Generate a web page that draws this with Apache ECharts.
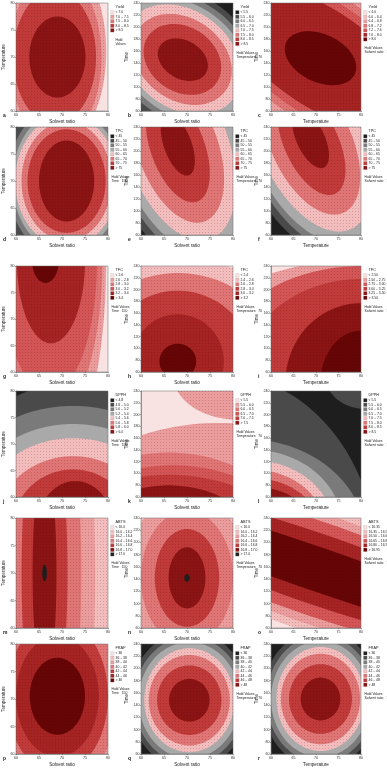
<!DOCTYPE html>
<html lang="en">
<head>
<meta charset="UTF-8">
<title>Response surface contour plots</title>
<script src="https://cdn.jsdelivr.net/npm/echarts@6/dist/echarts.min.js"></script>
<style>
  html, body { margin: 0; padding: 0; background: #fff; }
  #chart { width: 387px; height: 769px; }
</style>
</head>
<body>
<div id="chart"></div>
<script>
// axis ticks
var ratioTicks = [60, 65, 70, 75, 80];
var tempTicks = [60, 65, 70, 75, 80];
var timeTicks = [60, 80, 100, 120, 140, 160, 180, 200, 220, 240];

// responses (rows) and factor names
var responses = ['Yield', 'TPC', 'TFC', 'DPPH', 'ABTS', 'FRAP'];
var letters = ['a', 'b', 'c', 'd', 'e', 'f', 'g', 'h', 'i', 'j', 'k', 'l', 'm', 'n', 'o', 'p', 'q', 'r'];

// legend classes of every panel
var aLevels = ['< 7.0', '7.0 – 7.5', '7.5 – 8.0', '8.0 – 8.5', '> 8.5'];
var bLevels = ['< 5.5', '5.5 – 6.0', '6.0 – 6.5', '6.5 – 7.0', '7.0 – 7.5', '7.5 – 8.0', '8.0 – 8.5', '> 8.5'];
var cLevels = ['< 6.0', '6.0 – 6.4', '6.4 – 6.8', '6.8 – 7.2', '7.2 – 7.6', '7.6 – 8.0', '> 8.0'];
var dLevels = ['< 45', '45 – 50', '50 – 55', '55 – 60', '60 – 65', '65 – 70', '70 – 75', '> 75'];
var eLevels = ['< 45', '45 – 50', '50 – 55', '55 – 60', '60 – 65', '65 – 70', '70 – 75', '> 75'];
var fLevels = ['< 45', '45 – 50', '50 – 55', '55 – 60', '60 – 65', '65 – 70', '70 – 75', '> 75'];
var gLevels = ['< 2.6', '2.6 – 2.8', '2.8 – 3.0', '3.0 – 3.2', '3.2 – 3.4', '> 3.4'];
var hLevels = ['< 2.4', '2.4 – 2.6', '2.6 – 2.8', '2.8 – 3.0', '3.0 – 3.2', '> 3.2'];
var iLevels = ['< 2.50', '2.50 – 2.75', '2.75 – 3.00', '3.00 – 3.25', '3.25 – 3.50', '> 3.50'];
var jLevels = ['< 4.8', '4.8 – 5.0', '5.0 – 5.2', '5.2 – 5.4', '5.4 – 5.6', '5.6 – 5.8', '5.8 – 6.0', '> 6.0'];
var kLevels = ['< 5.5', '5.5 – 6.0', '6.0 – 6.5', '6.5 – 7.0', '7.0 – 7.5', '> 7.5'];
var lLevels = ['< 5.5', '5.5 – 6.0', '6.0 – 6.5', '6.5 – 7.0', '7.0 – 7.5', '7.5 – 8.0', '8.0 – 8.5', '> 8.5'];
var mLevels = ['< 16.0', '16.0 – 16.2', '16.2 – 16.4', '16.4 – 16.6', '16.6 – 16.8', '16.8 – 17.0', '> 17.0'];
var nLevels = ['< 16.0', '16.0 – 16.2', '16.2 – 16.4', '16.4 – 16.6', '16.6 – 16.8', '16.8 – 17.0', '> 17.0'];
var oLevels = ['< 16.35', '16.35 – 16.50', '16.50 – 16.65', '16.65 – 16.80', '16.80 – 16.95', '> 16.95'];
var pLevels = ['< 36', '36 – 38', '38 – 40', '40 – 42', '42 – 44', '44 – 46', '> 46'];
var qLevels = ['< 36', '36 – 38', '38 – 40', '40 – 42', '42 – 44', '44 – 46', '46 – 48', '> 48'];
var rLevels = ['< 36', '36 – 38', '38 – 40', '40 – 42', '42 – 44', '44 – 46', '46 – 48', '> 48'];

// contour regions: [class, centre x, centre y, half width (x units), half height (y units), tilt deg]
// drawn outermost first; the area outside all of them is class 0
var aContours = [[1, 68.6, 71, 11, 18, 0], [2, 68.6, 70, 10, 15.6, 0], [3, 68.4, 70, 9.0, 12.4, 0], [4, 69.0, 70, 6.1, 7.5, 0]];
var bContours = [[1, 69, 146, 19, 108, -38], [2, 69, 146, 17.6, 99, -38], [3, 69, 146, 16, 90, -38], [4, 69, 146, 14, 81, -38],
  [5, 69, 146, 11.6, 68, -36], [6, 69, 146, 9, 54, -34], [7, 69.1, 145.5, 5.8, 32, -30]];
var cContours = [[1, 71, 148, 32, 131, -34], [2, 71, 148, 30, 119, -34], [3, 71, 148, 28, 106, -34], [4, 71, 148, 26, 94, -34],
  [5, 71, 148, 24, 81, -34], [6, 71, 148, 8.4, 40, -25]];
var dContours = [[1, 71, 70, 14, 15.8, 0], [2, 71, 70, 12.8, 14.4, 0], [3, 71, 70, 11.8, 13.3, 0], [4, 71, 70, 11.2, 12.2, 0],
  [5, 71, 70, 9.8, 11.0, 0], [6, 71, 70, 8.5, 9.6, 0], [7, 71, 70, 6.0, 7.5, 0]];
var eContours = [[1, 68, 205, 28, 119, -70], [2, 68, 205, 26, 108, -70], [3, 68, 205, 24, 99, -70], [4, 68, 205, 21, 85, -70],
  [5, 68, 205, 17, 67, -70], [6, 68, 205, 12.4, 45, -70], [7, 68, 210, 7, 23, -70]];
var fContours = [[1, 69, 213, 28, 119, -65], [2, 69, 213, 26, 108, -65], [3, 69, 213, 24, 99, -65], [4, 69, 213, 21, 85, -65],
  [5, 69, 213, 17, 67, -65], [6, 69, 213, 12.4, 45, -65], [7, 68.8, 220, 7, 23.4, -65]];
var gContours = [[1, 67.2, 81, 12.4, 38.6, 0], [2, 67.2, 81, 11.6, 30, 0], [3, 67.2, 81, 10.4, 25, 0], [4, 67.6, 81, 7.4, 15.6, 0],
  [5, 66.4, 81, 2.9, 4.2, 0]];
var hContours = [[1, 68, 78, 28, 175, 0], [2, 68, 78, 22, 150, 0], [3, 68, 78, 16, 120, 0], [4, 68, 78, 10, 80, 0], [5, 68, 78, 4, 30, 0]];
var iContours = [[1, 80, 42, 44, 208, 0], [2, 80, 42, 34, 198, 0], [3, 80, 42, 27, 176, 0], [4, 80, 42, 16.8, 135, 0], [5, 80, 42, 9, 88, 0]];
var jContours = [[1, 72.4, 54, 30, 27.5, 0], [2, 72.4, 54, 29.4, 23.2, 0], [3, 72.4, 54, 25, 19.8, 0], [4, 72.4, 54, 21.6, 17.1, 0],
  [5, 72.4, 54, 17, 13.7, 0], [6, 72.4, 54, 13.2, 11.2, 0], [7, 72.9, 54, 8.4, 9, 0]];
var kContours = [[1, 77, -48, 40.6, 234, 0], [1, 81, 267, 14, 75.6, 0], [2, 66, -84, 32, 219.6, 0], [3, 67, -48, 28.4, 162, 0],
  [4, 66, -30, 26.8, 127.8, 0], [5, 66, -12, 18.4, 91.8, 0]];
var lContours = [[1, 81, 267, 9, 57.6, 0], [1, 48, -48, 35.4, 318.6, 0], [2, 54, -12, 27, 171, 0], [3, 56, 6, 20, 134, 0],
  [4, 56, 6, 18, 116, 0], [5, 56, 6, 16, 100.4, 0], [6, 56, 6, 14.8, 86, 0], [7, 56, 6, 13.4, 71.6, 0]];
var mContours = [[1, 66.2, 70, 14, 60, 0], [2, 66.2, 70, 11, 50, 0], [3, 66.2, 70, 8, 40, 0], [4, 66.2, 70, 5, 30, 0], [5, 66.2, 70, 2.6, 20, 0],
  [6, 66.2, 70, 0.5, 1.5, 0]];
var nContours = [[1, 70, 142, 16, 170, 0], [2, 70, 142, 13, 140, 0], [3, 70, 142, 10, 110, 0], [4, 70, 142, 7, 80, 0], [5, 70, 142, 4, 50, 0],
  [6, 70, 142, 0.6, 6, 0]];
var oContours = [[1, 70, 157, 50, 102.6, -19], [2, 70, 157, 50, 90, -19], [3, 70, 157, 50, 76.5, -19], [4, 70, 157, 50, 57.6, -19],
  [5, 70, 157, 50, 36, -19]];
var pContours = [[1, 69, 70.5, 17, 23, 0], [2, 69, 70.5, 15, 20, 0], [3, 69, 70.5, 13, 17, 0], [4, 69, 70.5, 11, 14, 0], [5, 69, 70.5, 9, 11, 0],
  [6, 69, 70.5, 6, 7, 0]];
var qContours = [[1, 70.5, 148, 13, 113, 0], [2, 70.5, 148, 12, 104, 0], [3, 70.5, 148, 11, 95, 0], [4, 70.5, 148, 9.8, 85, 0],
  [5, 70.5, 148, 8.8, 74, 0], [6, 70.5, 148, 7, 57, 0], [7, 70.5, 148, 4.4, 35, 0]];
var rContours = [[1, 71, 150, 13, 113, 0], [2, 71, 150, 12, 104, 0], [3, 71, 150, 11, 95, 0], [4, 71, 150, 9.8, 85, 0],
  [5, 71, 150, 8.8, 74, 0], [6, 71, 150, 7, 57, 0], [7, 71, 150, 4.4, 35, 0]];

var levelLists = [aLevels, bLevels, cLevels, dLevels, eLevels, fLevels, gLevels, hLevels, iLevels,
  jLevels, kLevels, lLevels, mLevels, nLevels, oLevels, pLevels, qLevels, rLevels];
var contourLists = [aContours, bContours, cContours, dContours, eContours, fContours, gContours, hContours, iContours,
  jContours, kContours, lContours, mContours, nContours, oContours, pContours, qContours, rContours];

// ---- styles ----
var R = ['#f8e2e2', '#f3bdbd', '#eb9c9c', '#e07575', '#d35555', '#c13a3a', '#a62323', '#8a1313', '#660505'];
var G = ['#1e1e1e', '#4a4a4a', '#7a7a7a', '#a9a9a9'];
var grayRed = [G[0], G[1], G[2], G[3], R[1], R[3], R[5], R[7]];
var palettes = [
  [R[0], R[2], R[3], R[5], R[7]],
  grayRed,
  [R[0], R[1], R[2], R[3], R[4], R[6], R[8]],
  grayRed, grayRed, grayRed,
  [R[0], R[2], R[3], R[4], R[6], R[8]],
  [R[0], R[1], R[3], R[5], R[6], R[8]],
  [R[0], R[2], R[4], R[5], R[7], R[8]],
  grayRed,
  [R[0], R[2], R[3], R[4], R[5], R[7]],
  grayRed,
  [R[0], R[1], R[2], R[3], R[5], R[7], G[0]],
  [R[0], R[1], R[2], R[3], R[5], R[7], G[0]],
  [R[0], R[1], R[2], R[4], R[6], R[8]],
  [R[0], R[1], R[2], R[3], R[5], R[6], R[8]],
  grayRed, grayRed
];

var colLeft = [16, 141, 271], colWidth = [92, 92, 90];
var rowTop = [3, 127, 266, 391, 518, 644], rowHeight = [108, 108, 106, 106, 110, 110];
var FONT = 'Liberation Sans, Arial, sans-serif';

// fine stipple like the printed figure: red fills get a faint dot pattern
var patternCache = {};
function speckled(color) {
  if (R.indexOf(color) < 0) return color;
  if (patternCache[color]) return patternCache[color];
  var cv = document.createElement('canvas');
  cv.width = 3; cv.height = 3;
  var ctx = cv.getContext('2d');
  ctx.fillStyle = color;
  ctx.fillRect(0, 0, 3, 3);
  ctx.fillStyle = 'rgba(60,0,0,0.18)';
  ctx.fillRect(1, 1, 1, 1);
  patternCache[color] = { image: cv, repeat: 'repeat' };
  return patternCache[color];
}

function makeRender(colors) {
  return function (params, api) {
    var c = api.coord([api.value(1), api.value(2)]);
    var s = api.size([api.value(3), api.value(4)]);
    var a = api.value(5) * Math.PI / 180;
    var ca = Math.cos(a), sa = Math.sin(a);
    var pts = [];
    for (var k = 0; k < 90; k++) {
      var t = k / 90 * Math.PI * 2;
      var ex = s[0] * Math.cos(t), ey = s[1] * Math.sin(t);
      pts.push([c[0] + ex * ca - ey * sa, c[1] - (ex * sa + ey * ca)]);
    }
    return { type: 'polygon', shape: { points: pts }, style: { fill: speckled(colors[api.value(0)]) } };
  };
}

function axisOf(ticks, name, gi, isX) {
  return {
    gridIndex: gi, type: 'value', min: ticks[0], max: ticks[ticks.length - 1], interval: ticks[1] - ticks[0],
    name: name, nameLocation: 'middle', nameGap: isX ? 8 : 10,
    nameTextStyle: { fontSize: 4.6, color: '#222', fontFamily: FONT },
    axisLine: { show: true, lineStyle: { color: '#555', width: 0.5 } },
    axisTick: { show: true, length: 1.2, lineStyle: { color: '#555', width: 0.5 } },
    axisLabel: { fontSize: 3.6, margin: isX ? 2 : 1.5, color: '#333', fontFamily: FONT },
    splitLine: { show: false }
  };
}

var grids = [], xAxes = [], yAxes = [], series = [], graphics = [];
for (var i = 0; i < 18; i++) {
  var row = Math.floor(i / 3), col = i % 3;
  var L = colLeft[col], T = rowTop[row], W = colWidth[col], H = rowHeight[row];
  var colors = palettes[i];
  grids.push({ left: L, top: T, width: W, height: H, containLabel: false, show: true,
    backgroundColor: colors[0], borderWidth: 0 });
  var xName = col === 2 ? 'Temperature' : 'Solvent ratio';
  var yName = col === 0 ? 'Temperature' : 'Time';
  xAxes.push(axisOf(col === 2 ? tempTicks : ratioTicks, xName, i, true));
  yAxes.push(axisOf(col === 0 ? tempTicks : timeTicks, yName, i, false));
  series.push({
    type: 'custom', xAxisIndex: i, yAxisIndex: i, clip: true, silent: true,
    encode: { x: 1, y: 2 }, renderItem: makeRender(colors), data: contourLists[i]
  });

  // frame and panel letter
  graphics.push({ type: 'rect', shape: { x: L, y: T, width: W, height: H }, z: 100,
    style: { fill: 'none', stroke: '#666', lineWidth: 0.5 } });
  graphics.push({ type: 'text', x: L - 13, y: T + H + 2, z: 100,
    style: { text: letters[i], fontSize: 5, fontWeight: 'bold', fill: '#222', fontFamily: FONT } });

  // legend
  var lx = L + W + 2.5;
  var levels = levelLists[i];
  graphics.push({ type: 'text', x: lx + 5, y: T + 2, z: 100,
    style: { text: responses[row], fontSize: 3.8, fill: '#222', fontFamily: FONT } });
  for (var k = 0; k < levels.length; k++) {
    var yy = T + 7.5 + k * 4.5;
    graphics.push({ type: 'rect', shape: { x: lx, y: yy, width: 3.6, height: 3.6 }, z: 100,
      style: { fill: colors[k], stroke: '#999', lineWidth: 0.2 } });
    graphics.push({ type: 'text', x: lx + 5, y: yy + 0.1, z: 100,
      style: { text: levels[k], fontSize: 3.4, fill: '#222', fontFamily: FONT } });
  }
  var hy = T + 7.5 + levels.length * 4.5 + 5;
  var holdName = col === 0 ? 'Time' : (col === 1 ? 'Temperature' : 'Solvent ratio');
  var holdVal = col === 0 ? '150' : '70';
  if (i === 0) {
    graphics.push({ type: 'text', x: lx + 5, y: hy, z: 100,
      style: { text: 'Hold\nValues', fontSize: 3.4, lineHeight: 4.2, fill: '#222', fontFamily: FONT } });
  } else {
    graphics.push({ type: 'text', x: lx + 1, y: hy, z: 100,
      style: { text: 'Hold Values', fontSize: 3.4, fill: '#222', fontFamily: FONT } });
    graphics.push({ type: 'text', x: lx + 1, y: hy + 4, z: 100,
      style: { text: holdName + '   ' + holdVal, fontSize: 3.4, fill: '#222', fontFamily: FONT } });
  }
}

var chart = echarts.init(document.getElementById('chart'), null, { renderer: 'canvas' });
chart.setOption({
  animation: false,
  backgroundColor: '#fff',
  grid: grids,
  xAxis: xAxes,
  yAxis: yAxes,
  series: series,
  graphic: graphics
});
</script>
</html>
